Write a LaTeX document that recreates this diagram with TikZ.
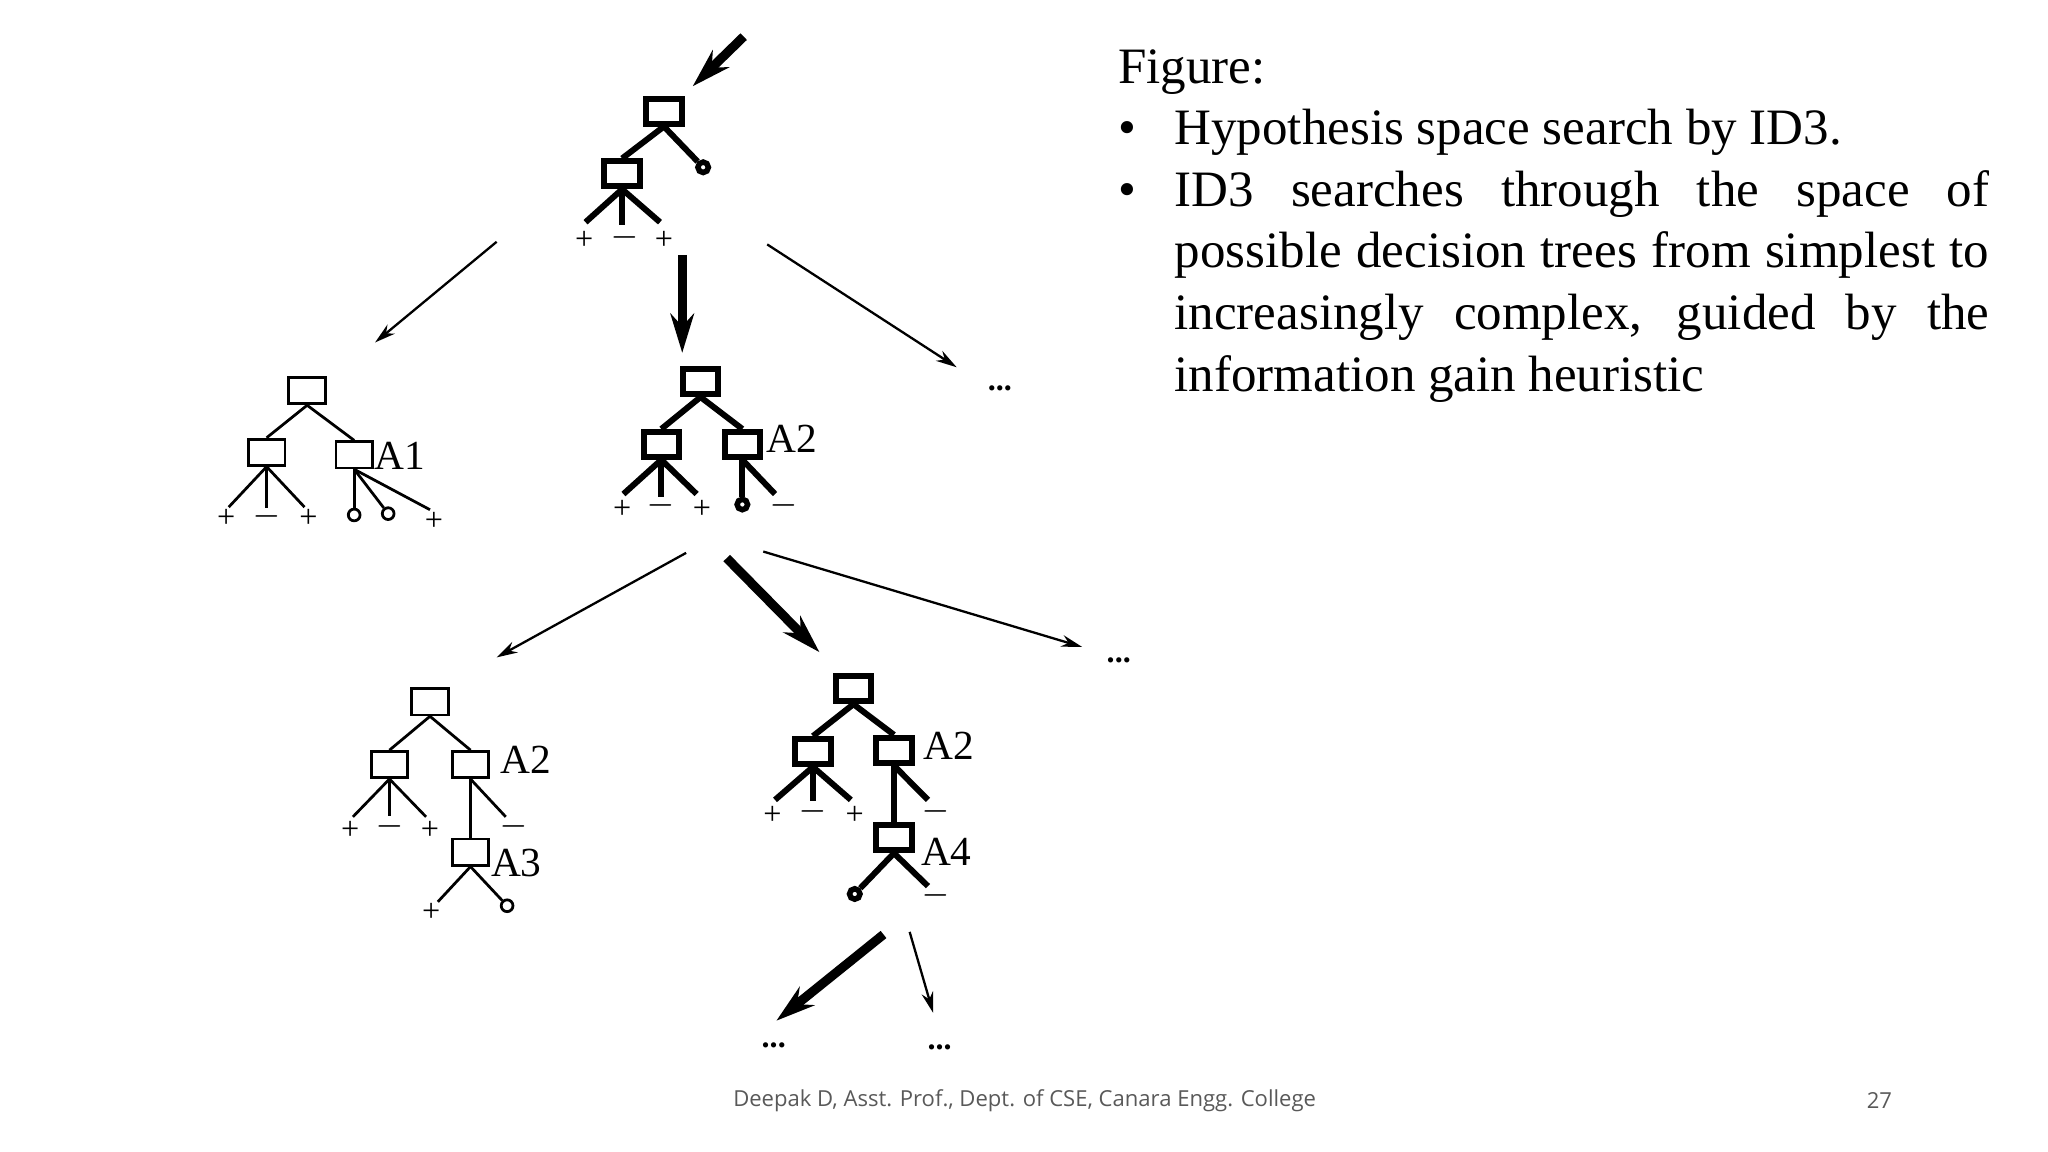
\documentclass[tikz,border=0pt]{standalone}
\usepackage{fontspec}
\setmainfont{Liberation Serif}
\newfontfamily\footfont{Open Sans}
\usetikzlibrary{arrows.meta}
\tikzset{
 bx/.style={draw,line width=0.6pt,minimum width=0.28cm,minimum height=0.2cm,inner sep=0pt},
 bxk/.style={draw,line width=1.3pt,minimum width=0.27cm,minimum height=0.19cm,inner sep=0pt},
 lf/.style={circle,draw,line width=0.6pt,minimum size=0.09cm,inner sep=0pt},
 lfk/.style={circle,draw,line width=1.2pt,minimum size=0.08cm,inner sep=0pt},
 e/.style={line width=0.6pt},
 ek/.style={line width=1.3pt},
 sg/.style={font=\fontsize{7}{7}\selectfont,inner sep=0pt},
 albl/.style={font=\fontsize{9}{9}\selectfont,inner sep=0pt,anchor=west},
 dt/.style={font=\fontsize{7}{7}\selectfont\bfseries,inner sep=0pt},
 ta/.style={line width=0.5pt,-{Stealth[length=0.16cm,width=0.09cm]}},
 tk/.style={line width=2pt,-{Stealth[length=0.3cm,width=0.18cm]}},
}
\begin{document}
\begin{tikzpicture}[x=0.01cm,y=-0.01cm]
\useasboundingbox (0,0) rectangle (1567,881);
% ---- tree 1
\node[bxk] (r1) at (508,85) {};
\node[bxk] (c1) at (476,133) {};
\node[lfk] (o1) at (538,128) {};
\draw[ek] (r1.south) -- (c1.north); \draw[ek] (r1.south) -- (o1);
\coordinate (l1a) at (448,170); \coordinate (l1b) at (476,172); \coordinate (l1c) at (505,170);
\foreach \l in {l1a,l1b,l1c} \draw[ek] (c1.south) -- (\l);
\node[sg] at (447,184) {+}; \node[sg] at (478,182) {$-$}; \node[sg] at (508,184) {+};
\coordinate (s0) at (569,28);
\draw[tk] (s0) -- (530,66);
% arrows level 1
\coordinate (a1) at (380,185); \coordinate (a1e) at (287,262);
\coordinate (a2) at (522,195); \coordinate (a2e) at (522,270);
\coordinate (a3) at (587,187); \coordinate (a3e) at (732,281);
\draw[ta] (a1) -- (a1e); \draw[tk] (a2) -- (a2e); \draw[ta] (a3) -- (a3e);
\node[dt] (d1) at (765,297) {...};
% ---- tree A1
\node[bx] (r2) at (235,299) {};
\node[bx] (c2a) at (204,346) {};
\node[bx] (c2b) at (271,348) {};
\node[albl] at (286,349) {A1};
\draw[e] (r2.south) -- (c2a.north); \draw[e] (r2.south) -- (c2b.north);
\coordinate (l2a) at (175,388); \coordinate (l2b) at (204,389); \coordinate (l2c) at (233,388);
\foreach \l in {l2a,l2b,l2c} \draw[e] (c2a.south) -- (\l);
\node[sg] at (173,397) {+}; \node[sg] at (204,395) {$-$}; \node[sg] at (236,397) {+};
\node[lf] (o2a) at (271,394) {}; \node[lf] (o2b) at (297,393) {};
\coordinate (l2d) at (329,390);
\draw[e] (c2b.south) -- (o2a); \draw[e] (c2b.south) -- (o2b); \draw[e] (c2b.south) -- (l2d);
\node[sg] at (332,399) {+};
% ---- tree A2 (middle)
\node[bxk] (r3) at (536,292) {};
\node[bxk] (c3a) at (506,340) {};
\node[bxk] (c3b) at (568,340) {};
\node[albl] at (586,336) {A2};
\draw[ek] (r3.south) -- (c3a.north); \draw[ek] (r3.south) -- (c3b.north);
\coordinate (l3a) at (477,378); \coordinate (l3b) at (506,380); \coordinate (l3c) at (533,378);
\foreach \l in {l3a,l3b,l3c} \draw[ek] (c3a.south) -- (\l);
\node[sg] at (476,390) {+}; \node[sg] at (506,387) {$-$}; \node[sg] at (537,390) {+};
\node[lfk] (o3) at (568,386) {};
\coordinate (l3d) at (593,378);
\draw[ek] (c3b.south) -- (o3); \draw[ek] (c3b.south) -- (l3d);
\node[sg] at (600,387) {$-$};
% arrows level 2
\coordinate (b1) at (525,423); \coordinate (b1e) at (380,503);
\coordinate (b2) at (556,427); \coordinate (b2e) at (627,499);
\coordinate (b3) at (584,422); \coordinate (b3e) at (828,495);
\draw[ta] (b1) -- (b1e); \draw[tk] (b2) -- (b2e); \draw[ta] (b3) -- (b3e);
\node[dt] (d2) at (856,505) {...};
% ---- tree A3
\node[bx] (r4) at (329,537) {};
\node[bx] (c4a) at (298,585) {};
\node[bx] (c4b) at (360,585) {};
\node[albl] at (382,581) {A2};
\draw[e] (r4.south) -- (c4a.north); \draw[e] (r4.south) -- (c4b.north);
\coordinate (l4a) at (270,625); \coordinate (l4b) at (298,624); \coordinate (l4c) at (326,625);
\foreach \l in {l4a,l4b,l4c} \draw[e] (c4a.south) -- (\l);
\node[sg] at (268,635) {+}; \node[sg] at (298,632) {$-$}; \node[sg] at (329,635) {+};
\node[bx] (c4c) at (360,652) {};
\coordinate (l4d) at (387,625);
\draw[e] (c4b.south) -- (c4c.north); \draw[e] (c4b.south) -- (l4d);
\node[sg] at (393,632) {$-$};
\node[albl] at (375,660) {A3};
\coordinate (l4e) at (335,690);
\node[lf] (o4) at (388,693) {};
\draw[e] (c4c.south) -- (l4e); \draw[e] (c4c.south) -- (o4);
\node[sg] at (330,698) {+};
% ---- tree A4
\node[bxk] (r5) at (653,527) {};
\node[bxk] (c5a) at (622,575) {};
\node[bxk] (c5b) at (684,574) {};
\node[albl] at (706,571) {A2};
\draw[ek] (r5.south) -- (c5a.north); \draw[ek] (r5.south) -- (c5b.north);
\coordinate (l5a) at (593,612); \coordinate (l5b) at (622,613); \coordinate (l5c) at (651,612);
\foreach \l in {l5a,l5b,l5c} \draw[ek] (c5a.south) -- (\l);
\node[sg] at (591,624) {+}; \node[sg] at (622,621) {$-$}; \node[sg] at (654,624) {+};
\node[bxk] (c5c) at (684,641) {};
\coordinate (l5d) at (710,612);
\draw[ek] (c5b.south) -- (c5c.north); \draw[ek] (c5b.south) -- (l5d);
\node[sg] at (716,621) {$-$};
\node[albl] at (704,652) {A4};
\node[lfk] (o5) at (654,684) {};
\coordinate (l5e) at (710,678);
\draw[ek] (c5c.south) -- (o5); \draw[ek] (c5c.south) -- (l5e);
\node[sg] at (716,685) {$-$};
% arrows level 3
\coordinate (g1) at (676,715); \coordinate (g1e) at (594,781);
\coordinate (g2) at (696,713); \coordinate (g2e) at (714,775);
\draw[tk] (g1) -- (g1e); \draw[ta] (g2) -- (g2e);
\node[dt] (d3) at (592,800) {...};
\node[dt] (d4) at (719,801) {...};
% ---- text
\node[anchor=north west,inner sep=0pt,text width=6.66cm,align=justify,
  font=\fontsize{11.1}{13.4}\selectfont] (txt) at (855,37) {%
\hyphenpenalty=10000
Figure:\par
\leftskip=0.43cm\parindent=-0.43cm
\makebox[0.43cm][l]{\textbullet}Hypothesis space search by ID3.\par
\makebox[0.43cm][l]{\textbullet}ID3 searches through the space of\linebreak possible decision trees from simplest to\linebreak increasingly complex, guided by the\linebreak information gain heuristic\par};
\node[font=\footfont\fontsize{4.8}{6}\selectfont,text=black!65] (ft) at (784,842) {Deepak D, Asst. Prof., Dept. of CSE, Canara Engg. College};
\node[font=\footfont\fontsize{4.8}{6}\selectfont,text=black!65] (pg) at (1438,842) {27};
\end{tikzpicture}
\end{document}
